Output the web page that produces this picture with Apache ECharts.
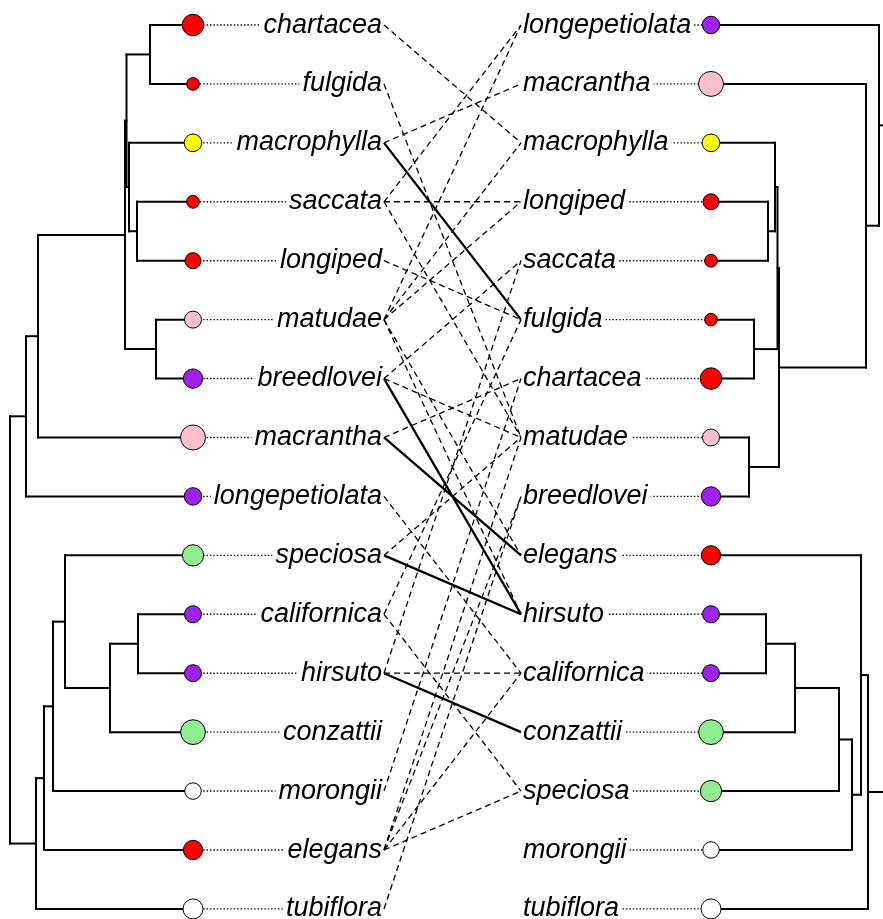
<!DOCTYPE html>
<html><head><meta charset="utf-8">
<script src="https://cdn.jsdelivr.net/npm/echarts@6/dist/echarts.min.js"></script>
<style>html,body{margin:0;padding:0;background:#fff}#c{width:883px;height:919px}</style>
</head><body><div id="c"></div>
<script>
// ---------------- DATA ----------------
const leftNewick = "(((((((chartacea:43,fulgida:43):23.5,(macrophylla:64,(saccata:56,longiped:56):8):2.5):1.5,(matudae:37,breedlovei:37):31):87,macrantha:155):12,longepetiolata:167):16,((((speciosa:128,((californica:55,hirsuto:55):28,conzattii:83):45):12,morongii:140):9,elegans:149):8,tubiflora:157):26);";
const rightNewick = "((longepetiolata:168,(macrantha:155,(((macrophylla:64,(longiped:57,saccata:57):7):2.5,(fulgida:43,chartacea:43):23.5):1.5,(matudae:38,breedlovei:38):30):87):13):5,((elegans:150,((((hirsuto:55,californica:55):29,conzattii:84):44,speciosa:128):13,morongii:141):9):7,tubiflora:157):16);";

const species    = ["chartacea","fulgida","macrophylla","saccata","longiped","matudae","breedlovei","macrantha","longepetiolata","speciosa","californica","hirsuto","conzattii","morongii","elegans","tubiflora"];
const traitColor = ["#FF0000","#FF0000","#FFFF00","#FF0000","#FF0000","#FFC0CB","#A020F0","#FFC0CB","#A020F0","#90EE90","#A020F0","#A020F0","#90EE90","#FFFFFF","#FF0000","#FFFFFF"];
const traitSize  = [21.5, 12.7, 17.7, 12.8, 16, 17, 19.3, 25, 17.5, 21.3, 17, 17, 24.8, 16.5, 19.3, 20];

// associations (left tip -> right tip)
const linkLeft  = ["chartacea","fulgida","macrophylla","saccata","saccata","saccata","longiped","matudae","matudae","matudae","matudae","matudae","breedlovei","breedlovei","macrantha","longepetiolata","speciosa","californica","californica","hirsuto","hirsuto","morongii","elegans","elegans","elegans","elegans","tubiflora",
                   "macrophylla","breedlovei","macrantha","speciosa","hirsuto"];
const linkRight = ["macrophylla","matudae","macrantha","longepetiolata","longiped","matudae","fulgida","longepetiolata","macrophylla","longiped","elegans","hirsuto","saccata","matudae","chartacea","californica","matudae","fulgida","speciosa","saccata","californica","chartacea","matudae","breedlovei","californica","speciosa","breedlovei",
                   "fulgida","hirsuto","elegans","hirsuto","conzattii"];
const linkSolid = [0,0,0,0,0,0,0,0,0,0,0,0,0,0,0,0,0,0,0,0,0,0,0,0,0,0,0, 1,1,1,1,1];

// ---------------- LAYOUT CONSTANTS ----------------
const L_ROOT_X = 10, R_ROOT_X = 884, L_LABEL_X = 385, R_LABEL_X = 520, L_LINK_X = 384, R_LINK_X = 521;
const FONT = 'italic 27px "Liberation Sans", Arial, sans-serif';

function parseNewick(s){
  let i = 0;
  function node(){
    const n = {children:[]};
    if (s[i] === '('){
      i++; n.children.push(node());
      while (s[i] === ','){ i++; n.children.push(node()); }
      i++;
    }
    let name = '';
    while (i < s.length && ',):;'.indexOf(s[i]) < 0) name += s[i++];
    n.name = name.trim();
    if (s[i] === ':'){ i++; let num=''; while (i < s.length && ',);'.indexOf(s[i]) < 0) num += s[i++]; n.len = parseFloat(num); }
    else n.len = 0;
    return n;
  }
  return node();
}
function layout(root){
  const leaves = [], segs = [];
  (function walk(n, pd){
    n.depth = pd + n.len;
    if (!n.children.length){ n.row = leaves.length; leaves.push(n); return; }
    n.children.forEach(c => walk(c, n.depth));
    n.row = n.children.reduce((a,c)=>a+c.row,0)/n.children.length;
  })(root, 0);
  (function seg(n){
    if (!n.children.length) return;
    const rows = n.children.map(c=>c.row);
    segs.push([n.depth, Math.min(...rows), n.depth, Math.max(...rows)]);
    n.children.forEach(c => { segs.push([n.depth, c.row, c.depth, c.row]); seg(c); });
  })(root);
  return {leaves, segs};
}
const LT = layout(parseNewick(leftNewick));
const RT = layout(parseNewick(rightNewick));
const lx = d => L_ROOT_X + d, rx = d => R_ROOT_X - d;

const treeSegs = LT.segs.map(s=>[lx(s[0]),s[1],lx(s[2]),s[3]]).concat(RT.segs.map(s=>[rx(s[0]),s[1],rx(s[2]),s[3]]));
const lRow = {}, rRow = {}, lTipX = {}, rTipX = {};
LT.leaves.forEach(l=>{ lRow[l.name]=l.row; lTipX[l.name]=lx(l.depth); });
RT.leaves.forEach(l=>{ rRow[l.name]=l.row; rTipX[l.name]=rx(l.depth); });

const dotted = [], labels = [], tips = [];
species.forEach((sp, k) => {
  dotted.push([lTipX[sp], lRow[sp], L_LABEL_X - 4, lRow[sp]]);
  dotted.push([R_LABEL_X + 4, rRow[sp], rTipX[sp], rRow[sp]]);
  labels.push([L_LABEL_X, lRow[sp], sp, 'right']);
  labels.push([R_LABEL_X, rRow[sp], sp, 'left']);
  tips.push({value:[lTipX[sp], lRow[sp]], symbolSize: traitSize[k], itemStyle:{color: traitColor[k]}});
  tips.push({value:[rTipX[sp], rRow[sp]], symbolSize: traitSize[k], itemStyle:{color: traitColor[k]}});
});
const links = linkLeft.map((a,k)=>[L_LINK_X, lRow[a], R_LINK_X, rRow[linkRight[k]], linkSolid[k]]);

function lineRenderer(style){
  return function(params, api){
    const p1 = api.coord([api.value(0), api.value(1)]);
    const p2 = api.coord([api.value(2), api.value(3)]);
    return {type:'line', shape:{x1:p1[0],y1:p1[1],x2:p2[0],y2:p2[1]}, style: typeof style==='function'? style(api): style, silent:true};
  };
}

const chart = echarts.init(document.getElementById('c'), null, {renderer:'canvas'});
chart.setOption({
  animation:false,
  backgroundColor:'#fff',
  grid:{left:0,right:0,top:0,bottom:0},
  xAxis:{type:'value',min:0,max:883,show:false},
  yAxis:{type:'value',inverse:true,min:-0.424,max:15.171,show:false},
  series:[
    {type:'custom', z:1, data:dotted, renderItem: lineRenderer({stroke:'#000',lineWidth:1.4,lineDash:[1.4,2]})},
    {type:'custom', z:2, data:labels, renderItem:function(params, api){
      const p = api.coord([api.value(0), api.value(1)]);
      const d = labels[params.dataIndex];
      return {type:'text', x:p[0], y:p[1], silent:true,
        style:{text:d[2], font:FONT, fill:'#000', align:d[3], verticalAlign:'middle', backgroundColor:'#fff', padding:[0,3,0,3]}};
    }},
    {type:'custom', z:3, data:treeSegs, renderItem: lineRenderer({stroke:'#000',lineWidth:2,lineCap:'square'})},
    {type:'scatter', z:4, symbol:'circle', data:tips, itemStyle:{borderColor:'#000',borderWidth:1,opacity:1}},
    {type:'custom', z:5, data:links, renderItem: lineRenderer(function(api){
      return api.value(4) ? {stroke:'#000',lineWidth:2.3} : {stroke:'#000',lineWidth:1.3,lineDash:[6,4]};
    })}
  ]
});
</script></body></html>
